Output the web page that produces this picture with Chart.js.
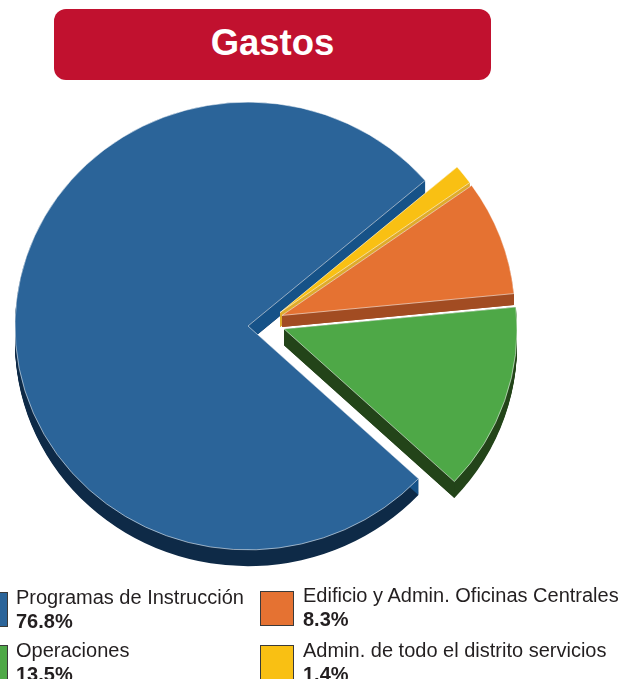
<!DOCTYPE html>
<html>
<head>
<meta charset="utf-8">
<title>Gastos</title>
<script src="https://cdn.jsdelivr.net/npm/chart.js@4"></script>
<style>
    html, body { margin: 0; padding: 0; background: #fff; }
    body { width: 631px; height: 679px; position: relative; overflow: hidden; font-family: "Liberation Sans", Arial, sans-serif; }
    #chart-box { position: absolute; left: 0; top: 0; width: 631px; height: 679px; }
    #title { position: absolute; left: 54px; top: 9px; width: 437px; height: 71px; line-height: 68px; border-radius: 12px; background: #c1112f; color: #fff; font-size: 36.5px; font-weight: bold; text-align: center; }
    .swatch { position: absolute; width: 32px; height: 33px; border: 1px solid #3a3a3a; }
    .label { position: absolute; font-size: 20px; line-height: 24px; color: #231f20; white-space: nowrap; }
    .label b { display: block; font-size: 20px; }
</style>
</head>
<body>
<div id="chart-box"><canvas id="gastos"></canvas></div>
<div id="title">Gastos</div>
<div id="legend"></div>
<script>
    // slices, clockwise from the lower edge of the big blue one
    var categories = ['Programas de Instrucción', 'Admin. de todo el distrito servicios', 'Edificio y Admin. Oficinas Centrales', 'Operaciones'];
    var values = [76.8, 1.4, 8.3, 13.5];
    var colors = ['#2b6499', '#f9c013', '#e57232', '#4ea847'];
    var rimColors = ['#0e2a47', '#dfab2c', '#a24c22', '#234419'];
    var edgeColors = ['#165288', '#dfab2c', '#a24c22', '#234419'];
    var shiftX = [0, 32, 34, 36];
    var shiftY = [0, -14, -11, 3];
    var depths = [17, 15, 12, 17];

    // legend is read in this order: left column, then right column
    var legendOrder = [0, 3, 2, 1];
    var legendSpots = [[-26, 592, 16, 585], [-26, 645, 16, 638], [260, 591, 303, 583], [260, 645, 303, 638]];

    var squash = 0.961;
    var pieMiddle = 0;

    function squashPie(ctx) {
        ctx.translate(0, pieMiddle);
        ctx.scale(1, squash);
        ctx.translate(0, -pieMiddle);
    }

    var pie3d = {
        id: 'pie3d',
        afterDatasetsUpdate: function(chart) {
            var arcs = chart.getDatasetMeta(0).data;
            pieMiddle = arcs[0].y;
            arcs.forEach(function(arc, i) {
                arc.x += shiftX[i];
                arc.y += shiftY[i];
            });
        },
        beforeDatasetsDraw: function(chart) {
            var ctx = chart.ctx;
            var arcs = chart.getDatasetMeta(0).data;
            ctx.save();
            squashPie(ctx);
            arcs.forEach(function(arc, i) {
                var r = arc.outerRadius;
                // outer wall
                ctx.fillStyle = rimColors[i];
                for (var k = 1; k <= depths[i]; k++) {
                    ctx.beginPath();
                    ctx.moveTo(arc.x, arc.y + k);
                    ctx.arc(arc.x, arc.y + k, r, arc.startAngle, arc.endAngle);
                    ctx.closePath();
                    ctx.fill();
                }
                // walls of the two straight cuts
                ctx.fillStyle = edgeColors[i];
                [arc.startAngle, arc.endAngle].forEach(function(angle) {
                    var ex = arc.x + Math.cos(angle) * r;
                    var ey = arc.y + Math.sin(angle) * r;
                    ctx.beginPath();
                    ctx.moveTo(arc.x, arc.y);
                    ctx.lineTo(ex, ey);
                    ctx.lineTo(ex, ey + depths[i]);
                    ctx.lineTo(arc.x, arc.y + depths[i]);
                    ctx.closePath();
                    ctx.fill();
                });
            });
            // tops get the same squash, restored after the datasets
        },
        afterDatasetsDraw: function(chart) {
            chart.ctx.restore();
        }
    };

    document.addEventListener('DOMContentLoaded', function() {
        var element = document.getElementById('gastos');
        new Chart(element.getContext('2d'), {
            type: 'pie',
            data: {
                labels: categories,
                datasets: [{
                    data: values,
                    backgroundColor: colors,
                    borderColor: 'rgba(255,255,255,0.55)',
                    borderWidth: 1
                }]
            },
            options: {
                responsive: true,
                maintainAspectRatio: false,
                animation: false,
                rotation: 133,
                radius: 233,
                layout: { padding: { right: 135, bottom: 27 } },
                plugins: { legend: { display: false }, tooltip: { enabled: false } }
            },
            plugins: [pie3d]
        });

        var legend = document.getElementById('legend');
        legendOrder.forEach(function(idx, n) {
            var spot = legendSpots[n];
            var swatch = document.createElement('div');
            swatch.className = 'swatch';
            swatch.style.left = spot[0] + 'px';
            swatch.style.top = spot[1] + 'px';
            swatch.style.background = colors[idx];
            legend.appendChild(swatch);

            var label = document.createElement('div');
            label.className = 'label';
            label.style.left = spot[2] + 'px';
            label.style.top = spot[3] + 'px';
            label.textContent = categories[idx];
            var pct = document.createElement('b');
            pct.textContent = values[idx].toFixed(1) + '%';
            label.appendChild(pct);
            legend.appendChild(label);
        });
    });
</script>
</body>
</html>
